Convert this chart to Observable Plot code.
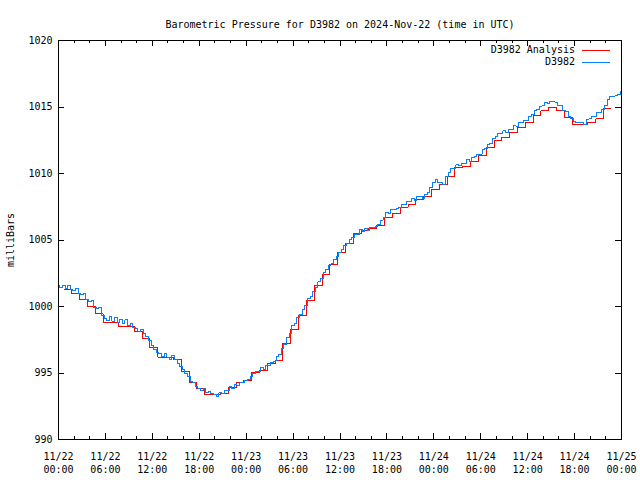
<!DOCTYPE html>
<html><head><meta charset="utf-8">
<script src="https://cdn.jsdelivr.net/npm/d3@7"></script>
<script src="https://cdn.jsdelivr.net/npm/@observablehq/plot@0.6"></script>
<style>
html,body{margin:0;padding:0;background:#fff;}
</style></head><body><div id="chart"></div>
<script>
const title = "Barometric Pressure for D3982 on 2024-Nov-22 (time in UTC)";
const yLabel = "milliBars";
const seriesNames = ["D3982 Analysis", "D3982"];
const seriesColors = ["#ff0000", "#0a80ff"];
const xTickHours = [0, 6, 12, 18, 24, 30, 36, 42, 48, 54, 60, 66, 72];
const xTickLabels = ["11/22\n00:00","11/22\n06:00","11/22\n12:00","11/22\n18:00",
  "11/23\n00:00","11/23\n06:00","11/23\n12:00","11/23\n18:00",
  "11/24\n00:00","11/24\n06:00","11/24\n12:00","11/24\n18:00","11/25\n00:00"];
const xMinorStep = 2;
const yTicks = [990, 995, 1000, 1005, 1010, 1015, 1020];

// Analysis (hourly steps, first step starts at hour 0.7)
const analysisStart = 0.7;
const analysisValues = [
  1001.25, 1000.95, 1000.5, 1000.0, 999.45, 998.8, 998.8, 998.5, 998.5, 998.1,
  997.6, 996.9, 996.2, 996.2, 996.0, 995.1, 994.25, 993.8, 993.4, 993.4,
  993.45, 993.9, 994.25, 994.45, 995.05, 995.2, 995.7, 995.95, 997.2, 998.3,
  999.35, 1000.45, 1001.55, 1002.4, 1003.15, 1004.05, 1004.75, 1005.5, 1005.75, 1005.85,
  1006.1, 1006.7, 1007.0, 1007.45, 1007.7, 1008.05, 1008.25, 1008.8, 1009.15, 1009.75,
  1010.45, 1010.55, 1010.9, 1011.35, 1011.95, 1012.45, 1012.7, 1013.05, 1013.45, 1013.8,
  1014.35, 1014.7, 1014.95, 1014.75, 1014.2, 1013.7, 1013.7, 1013.85, 1014.1, 1014.85,
  1014.85
];

// Station observations every 20 minutes from hour 0 to hour 72
const stationValues = [
  1001.6, 1001.45, 1001.6,  1001.35, 1001.55, 1001.25,  1001.2, 1001.35, 1000.95,
  1000.9, 1001.0, 1000.55,  1000.35, 1000.45, 999.95,  999.85, 999.95, 999.35,
  999.1, 998.95, 999.25,  998.9, 999.15, 998.8,  999.05, 998.75, 999.0,
  998.55, 998.75, 998.4,  998.35, 998.15, 998.3,  998.0, 997.75, 997.45,
  997.1, 996.75, 996.55,  996.45, 996.25, 996.5,  996.2, 996.05, 996.35,
  996.0, 995.75, 995.5,  995.3, 994.95, 994.75,  994.35, 994.3, 993.95,
  993.85, 993.65, 993.8,  993.5, 993.6, 993.45,  993.4, 993.25, 993.5,
  993.45, 993.65, 993.7,  993.95, 993.8, 994.1,  994.05, 994.25, 994.3,
  994.45, 994.5, 994.75,  994.95, 995.15, 995.15,  995.4, 995.25, 995.55,
  995.55, 995.8, 995.9,  996.25, 996.4, 996.85,  997.15, 997.65, 997.95,
  998.55, 998.75, 999.2,  999.4, 999.8, 1000.05,  1000.6, 1000.75, 1001.15,
  1001.4, 1001.85, 1002.1,  1002.55, 1002.75, 1003.05,  1003.2, 1003.55, 1003.75,
  1004.05, 1004.25, 1004.6,  1004.75, 1005.05, 1005.2,  1005.45, 1005.45, 1005.8,
  1005.65, 1005.9, 1005.7,  1005.95, 1005.95, 1006.05,  1006.15, 1006.5, 1006.7,
  1007.1, 1007.0, 1007.3,  1007.3, 1007.4, 1007.45,  1007.65, 1007.7, 1007.9,
  1007.9, 1008.15, 1008.0,  1008.25, 1008.3, 1008.15,  1008.4, 1008.55, 1008.95,
  1009.3, 1009.55, 1009.35,  1009.35, 1009.15, 1009.75,  1010.1, 1010.35, 1010.4,
  1010.65, 1010.6, 1010.75,  1010.75, 1011.05, 1010.9,  1011.2, 1011.25, 1011.4,
  1011.45, 1011.8, 1011.85,  1012.15, 1012.25, 1012.6,  1012.75, 1013.0, 1013.0,
  1013.2, 1013.05, 1013.3,  1013.3, 1013.6, 1013.55,  1013.8, 1013.8, 1014.0,
  1014.0, 1014.3, 1014.4,  1014.7, 1014.8, 1015.05,  1015.1, 1015.35, 1015.3,
  1015.45, 1015.4, 1015.35,  1015.1, 1015.1, 1014.75,  1014.65, 1014.3, 1014.15,
  1013.9, 1013.85, 1013.8,  1013.85, 1013.65, 1014.05,  1014.1, 1014.25, 1014.25,
  1014.6, 1014.55, 1014.8,  1015.1, 1015.6, 1015.8,  1015.8, 1015.85, 1015.95,
  1016.15
];

const analysis = analysisValues.map((v, i) => ({h: analysisStart + i, v}));
const station = stationValues.map((v, i) => ({h: i / 3, v}));
const font = "'DejaVu Sans Mono', 'Liberation Mono', monospace";

const plot = Plot.plot({
  width: 640, height: 480,
  marginLeft: 58, marginRight: 19, marginTop: 40, marginBottom: 41,
  style: {fontFamily: font, fontSize: "10px", background: "#fff", color: "#000"},
  x: {domain: [0, 72], label: null},
  y: {domain: [990, 1020], label: null},
  marks: [
    Plot.axisX(xTickHours, {anchor: "bottom", tickSize: 0, tickPadding: 11, lineHeight: 1.3,
      tickFormat: (d) => xTickLabels[xTickHours.indexOf(d)], fill: "#000", fontSize: 10, label: null}),
    Plot.axisY(yTicks, {anchor: "left", tickSize: 0, tickPadding: 6, tickFormat: (d) => String(d),
      fill: "#000", fontSize: 10, label: null}),
    Plot.line(analysis, {x: "h", y: "v", curve: "step-after", stroke: seriesColors[0], strokeWidth: 1, shapeRendering: "crispEdges"}),
    Plot.line(station, {x: "h", y: "v", curve: "step", stroke: seriesColors[1], strokeWidth: 1, shapeRendering: "crispEdges"}),
    Plot.frame({stroke: "#000", strokeWidth: 1}),
    Plot.text([title], {frameAnchor: "top", dy: -20, fill: "#000", fontSize: 10}),
    Plot.text([yLabel], {frameAnchor: "left", textAnchor: "middle", dx: -48, rotate: -90, fill: "#000", fontSize: 10})
  ]
});

// gnuplot-style inward ticks on all four sides + in-plot legend
const svg = d3.select(plot);
const sx = plot.scale("x"), sy = plot.scale("y");
const [xl, xr] = sx.range, [yb, yt] = sy.range;
const g = svg.append("g").attr("stroke", "#000").attr("shape-rendering", "crispEdges");
const minor = d3.range(xTickHours[0], xTickHours[xTickHours.length - 1] + 1, xMinorStep);
for (const h of minor) {
  const X = Math.round(sx.apply(h)) + 0.5;
  const len = xTickHours.includes(h) ? 6 : 3;
  g.append("line").attr("x1", X).attr("x2", X).attr("y1", yb).attr("y2", yb - len);
  g.append("line").attr("x1", X).attr("x2", X).attr("y1", yt).attr("y2", yt + len);
}
for (const v of yTicks) {
  const Y = Math.round(sy.apply(v)) + 0.5;
  g.append("line").attr("x1", xl).attr("x2", xl + 6).attr("y1", Y).attr("y2", Y);
  g.append("line").attr("x1", xr).attr("x2", xr - 6).attr("y1", Y).attr("y2", Y);
}
const lg = svg.append("g").attr("font-family", font).attr("font-size", 10);
seriesNames.forEach((name, i) => {
  const Y = 50 + i * 12;
  lg.append("text").attr("x", 575).attr("y", Y).attr("dy", "0.32em").attr("text-anchor", "end").attr("fill", "#000").text(name);
  lg.append("line").attr("x1", 582).attr("x2", 610).attr("y1", Y + 0.5).attr("y2", Y + 0.5)
    .attr("stroke", seriesColors[i]).attr("shape-rendering", "crispEdges");
});
document.getElementById("chart").appendChild(plot);
</script></body></html>
